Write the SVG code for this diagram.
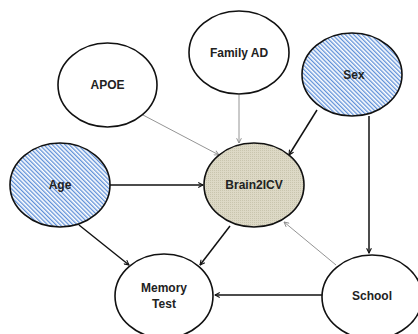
<svg xmlns="http://www.w3.org/2000/svg" width="418" height="334" viewBox="0 0 418 334">
<style>
.n{stroke:#111;stroke-width:1.6}
.w{fill:#fff}
.h{fill:url(#hatch)}
.b{fill:url(#dots)}
.t{font-family:"Liberation Sans",Arial,sans-serif;font-weight:bold;font-size:12px;fill:#222;text-anchor:middle;dominant-baseline:central}
.k{stroke:#111;stroke-width:1.5;fill:none;marker-end:url(#ak)}
.g{stroke:#888;stroke-width:0.9;fill:none;marker-end:url(#ag)}
</style>
<defs>
<pattern id="hatch" patternUnits="userSpaceOnUse" width="3" height="3" patternTransform="rotate(-45)">
<rect width="3" height="3" fill="#fff"/>
<rect width="1.3" height="3" fill="#5f90d8"/>
</pattern>
<pattern id="dots" patternUnits="userSpaceOnUse" width="2" height="2">
<rect width="2" height="2" fill="#ddd9c6"/>
<rect width="1" height="1" fill="#c9c5ae"/>
</pattern>
<marker id="ak" viewBox="0 0 10 10" refX="9" refY="5" markerWidth="6" markerHeight="6" markerUnits="userSpaceOnUse" orient="auto">
<path d="M1,1 L9,5 L1,9" fill="none" stroke="#111" stroke-width="1.8"/>
</marker>
<marker id="ag" viewBox="0 0 10 10" refX="9" refY="5" markerWidth="6" markerHeight="6" markerUnits="userSpaceOnUse" orient="auto">
<path d="M1,1 L9,5 L1,9" fill="none" stroke="#888" stroke-width="1.5"/>
</marker>
</defs>
<g id="connectors">
<line class="g" x1="143" y1="115" x2="219" y2="155"/>
<line class="g" x1="239" y1="95" x2="239" y2="143"/>
<line class="k" x1="317" y1="110" x2="289" y2="155"/>
<line class="k" x1="369" y1="116" x2="369" y2="253"/>
<line class="k" x1="110" y1="185" x2="203" y2="185"/>
<line class="k" x1="79" y1="225" x2="129" y2="265"/>
<line class="k" x1="230" y1="226" x2="200" y2="265"/>
<line class="k" x1="323" y1="295" x2="215" y2="295"/>
<line class="g" x1="336" y1="265" x2="284" y2="222"/>
</g>
<g id="apoe"><ellipse class="n w" cx="107.5" cy="85" rx="49.5" ry="42"/><text class="t" x="107.5" y="85">APOE</text></g>
<g id="familyad"><ellipse class="n w" cx="239" cy="52.5" rx="50" ry="41.5"/><text class="t" x="239" y="53">Family AD</text></g>
<g id="sex"><ellipse class="n h" cx="352" cy="74.5" rx="50" ry="41.5"/><text class="t" x="354" y="75">Sex</text></g>
<g id="age"><ellipse class="n h" cx="60" cy="185" rx="50" ry="42"/><text class="t" x="60" y="185">Age</text></g>
<g id="brain2icv"><ellipse class="n b" cx="254" cy="185" rx="50" ry="42"/><text class="t" x="254" y="185">Brain2ICV</text></g>
<g id="memorytest"><ellipse class="n w" cx="164" cy="296" rx="49" ry="42"/><text class="t" x="164" y="288">Memory</text><text class="t" x="164" y="304">Test</text></g>
<g id="school"><ellipse class="n w" cx="372" cy="297" rx="50" ry="42"/><text class="t" x="372" y="296">School</text></g>
</svg>
